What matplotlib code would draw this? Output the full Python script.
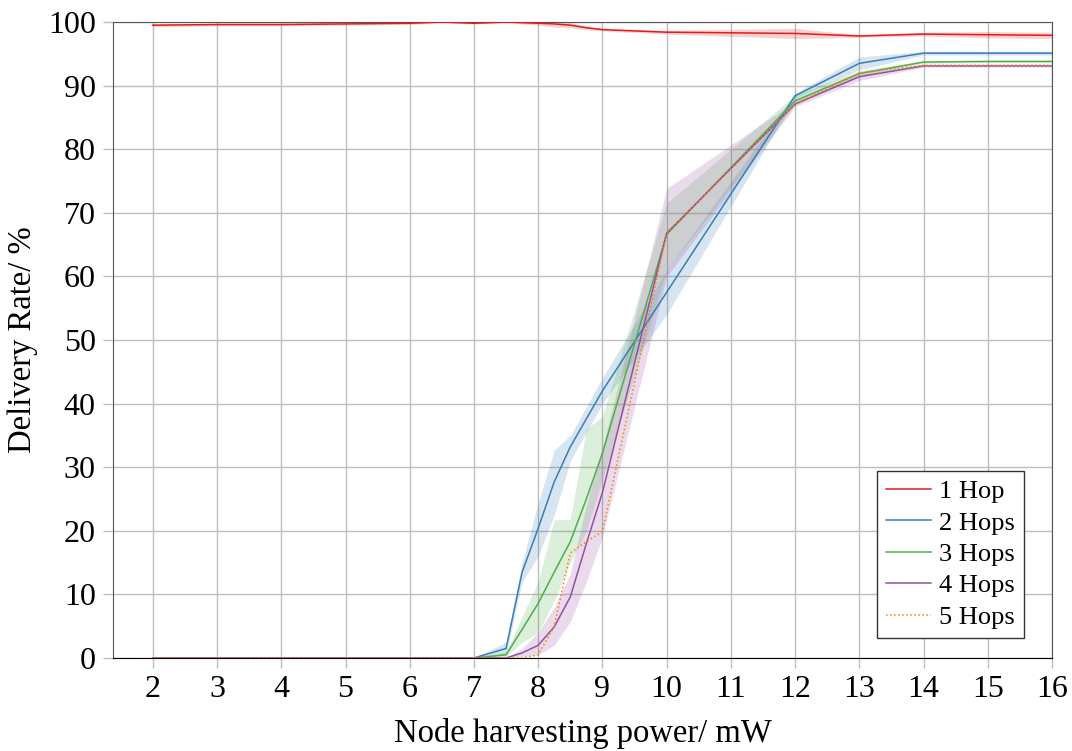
import numpy as np
import matplotlib
matplotlib.use('Agg')
import matplotlib.pyplot as plt

plt.rcParams['font.family'] = ['Liberation Serif', 'DejaVu Serif']

# harvesting power (mW)
x = [2, 3, 4, 5, 6, 6.5, 7, 7.5, 7.75, 8, 8.25, 8.5, 8.75, 9, 10, 12, 13, 14, 15, 16]

labels = ['1 Hop', '2 Hops', '3 Hops', '4 Hops', '5 Hops']
colors = ['#e41a1c', '#377eb8', '#4daf4a', '#984ea3', '#ff7f00']

# delivery rate (%) - mean, lower and upper band
hop1 = [99.5, 99.6, 99.6, 99.7, 99.8, 100, 99.8, 100, 99.9, 99.8, 99.7, 99.5, 99.1, 98.8, 98.4, 98.2, 97.8, 98.1, 98.0, 97.9]
hop1_lo = [99.3, 99.4, 99.4, 99.5, 99.6, 99.9, 99.7, 99.9, 99.7, 99.5, 99.2, 99.1, 98.8, 98.6, 98.1, 97.4, 97.6, 97.8, 97.5, 97.4]
hop1_hi = [99.7, 99.8, 99.8, 99.9, 100, 100.1, 99.9, 100.1, 100, 100, 100.1, 99.9, 99.4, 99.0, 98.7, 99.0, 98.0, 98.4, 98.5, 98.4]

hop2 = [0, 0, 0, 0, 0, 0, 0, 1.5, 13.5, 20.4, 27.7, 33.2, 37.6, 42.0, 57.5, 88.4, 93.5, 95.1, 95.1, 95.1]
hop2_lo = [0, 0, 0, 0, 0, 0, 0, 0.5, 12, 16, 22.5, 31, 35.5, 40, 54, 88, 92.5, 94.8, 94.8, 94.8]
hop2_hi = [0, 0, 0, 0, 0, 0, 0, 2.5, 15, 24.4, 32.7, 35, 39.5, 44, 61, 88.8, 94.5, 95.4, 95.4, 95.4]

hop3 = [0, 0, 0, 0, 0, 0, 0, 0.5, 4.5, 8.6, 13.5, 18.3, 25, 32.2, 66.6, 87.6, 91.9, 93.7, 93.8, 93.8]
hop3_lo = [0, 0, 0, 0, 0, 0, 0, 0.2, 2.5, 4, 9, 15, 20, 28, 61, 87, 91.5, 93.5, 93.6, 93.6]
hop3_hi = [0, 0, 0, 0, 0, 0, 0, 1, 6.5, 12, 21.7, 21.8, 36, 38, 71.5, 88.5, 92.3, 93.9, 94, 94]

hop4 = [0, 0, 0, 0, 0, 0, 0, 0, 0.8, 2, 4.9, 9.6, 18, 26, 66.8, 87.1, 91.4, 93.1, 93.1, 93.1]
hop4_lo = [0, 0, 0, 0, 0, 0, 0, 0, 0.2, 0.5, 2, 5.7, 12, 19, 60, 86.7, 90.8, 92.9, 92.9, 92.9]
hop4_hi = [0, 0, 0, 0, 0, 0, 0, 0, 1.5, 4, 8, 13.3, 24, 33, 73.8, 87.5, 92, 93.3, 93.3, 93.3]

hop5 = [0, 0, 0, 0, 0, 0, 0, 0, 0, 0.5, 5, 16.5, 18.3, 19.9, 66.8, 87.1, 92.0, 93.2, 93.2, 93.2]

means = [hop1, hop2, hop3, hop4, hop5]
lows = [hop1_lo, hop2_lo, hop3_lo, hop4_lo, None]
highs = [hop1_hi, hop2_hi, hop3_hi, hop4_hi, None]

fig = plt.figure(figsize=(10.72, 7.51), dpi=100)
ax = fig.add_axes([113/1072, 1-658/751, 939/1072, 636/751])

for m, lo, hi, c in zip(means, lows, highs, colors):
    if lo is not None:
        ax.fill_between(x, lo, hi, color=c, alpha=0.2, linewidth=0)

for i, (m, c, lab) in enumerate(zip(means, colors, labels)):
    ls = ':' if i == 4 else '-'
    ax.plot(x, m, color=c, lw=1.1, ls=ls, label=lab, zorder=3)

ax.set_xlim(1.38, 16)
ax.set_ylim(0, 100)
ax.set_xticks(np.arange(2, 17))
ax.set_yticks(np.arange(0, 101, 10))
ax.grid(True, color='#bdbdbd', lw=1.0)
ax.set_axisbelow(True)
ax.tick_params(direction='out', length=7.5, width=1.0, color='#bdbdbd', labelsize=23, pad=5)

for s in ['left', 'top', 'right']:
    ax.spines[s].set_color('#555555')
ax.spines['bottom'].set_color('black')

ax.set_xlabel('Node harvesting power/ mW', fontsize=23.5, labelpad=10)
ax.set_ylabel('Delivery Rate/ %', fontsize=23.5, labelpad=7)

leg = ax.legend(loc='lower right', bbox_to_anchor=(0.970, 0.0314), borderaxespad=0,
                fontsize=19, handlelength=1.7, handletextpad=0.3, labelspacing=0.3,
                borderpad=0.35, fancybox=False, framealpha=1, edgecolor='#333333')
leg.get_frame().set_linewidth(1.0)

plt.savefig('out.png', dpi=100)
